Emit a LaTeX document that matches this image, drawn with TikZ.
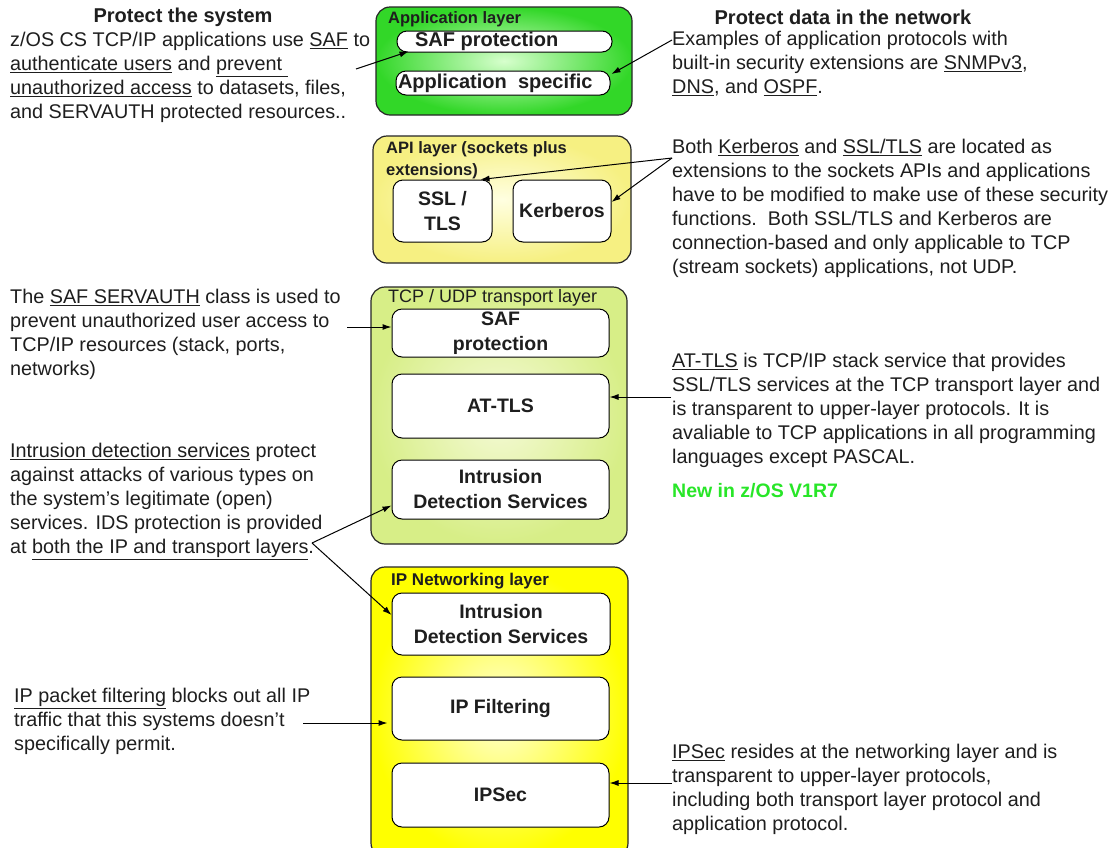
\documentclass[tikz,border=0pt]{standalone}
\usepackage{fontspec}
\setmainfont{Liberation Sans}
\usetikzlibrary{arrows.meta,calc}
\definecolor{appgreen}{RGB}{50,215,40}
\definecolor{appinner}{RGB}{215,255,205}
\definecolor{apiout}{RGB}{246,240,130}
\definecolor{apiin}{RGB}{255,255,225}
\definecolor{tcpout}{RGB}{215,238,135}
\definecolor{tcpin}{RGB}{245,250,215}
\definecolor{ipout}{RGB}{255,255,0}
\definecolor{ipin}{RGB}{255,255,215}
\definecolor{newgreen}{RGB}{40,230,40}
\definecolor{txt}{RGB}{30,30,30}
\tikzset{
  layerbox/.style={draw=black!85, line width=1.2pt, rounded corners=14pt, inner sep=0pt},
  innerbox/.style={draw=black, line width=1pt, fill=white, rounded corners=10pt, align=center,
    inner sep=0pt, font=\bfseries\fontsize{19.5}{25}\selectfont, text=txt},
  capsule/.style={draw=black, line width=1pt, fill=white, rounded corners=10pt, inner sep=0pt,
    font=\bfseries\fontsize{20}{22}\selectfont, text=txt},
  ltitle/.style={anchor=north west, inner sep=0pt, align=left, font=\bfseries\fontsize{16.5}{22}\selectfont, text=txt},
  para/.style={anchor=north west, inner sep=0pt, align=left, font=\fontsize{19.8}{24}\selectfont, text=txt},
  heading/.style={inner sep=0pt, font=\bfseries\fontsize{20}{22}\selectfont, text=txt},
  arr/.style={draw=black, line width=1pt, -{Latex[length=9pt,width=6pt]}},
}
\begin{document}
\begin{tikzpicture}[x=1pt,y=-1pt]
\useasboundingbox[fill=white] (0,0) rectangle (1114,847);

% ---- Application layer
\node[layerbox, inner color=appinner, outer color=appgreen, minimum width=256pt, minimum height=108pt] (app) at (504,61) {};
\node[ltitle] (apptitle) at (388,11) {Application layer};
\node[capsule, minimum width=215pt, minimum height=21pt] (saf1) at (504.5,41.5) {\makebox[179pt][l]{SAF protection}};
\node[capsule, minimum width=214pt, minimum height=24pt] (appspec) at (503,83) {\makebox[210pt][l]{Application\ \ specific}};

% ---- API layer
\node[layerbox, inner color=apiin, outer color=apiout, minimum width=258pt, minimum height=127pt] (api) at (502,199.5) {};
\node[ltitle] (apititle) at (386,141) {API layer (sockets plus\\extensions)};
\node[innerbox, minimum width=99pt, minimum height=62pt] (ssl) at (442.5,211) {SSL /\\TLS};
\node[innerbox, minimum width=98pt, minimum height=62pt] (kerb) at (562,211) {Kerberos};

% ---- TCP / UDP transport layer
\node[layerbox, inner color=tcpin, outer color=tcpout, minimum width=256pt, minimum height=257pt] (tcp) at (499,415.5) {};
\node[ltitle, font=\fontsize{18}{20}\selectfont] (tcptitle) at (388,289) {TCP / UDP transport layer};
\node[innerbox, minimum width=217pt, minimum height=48pt] (saf2) at (500.5,333) {SAF\\protection};
\node[innerbox, minimum width=217pt, minimum height=64pt] (attls) at (500.5,406) {AT-TLS};
\node[innerbox, minimum width=217pt, minimum height=59pt] (ids1) at (500.5,489.5) {Intrusion\\Detection Services};

% ---- IP Networking layer
\node[layerbox, inner color=ipin, outer color=ipout, minimum width=257pt, minimum height=290pt] (ip) at (499.5,712) {};
\node[ltitle, font=\bfseries\fontsize{17}{20}\selectfont] (iptitle) at (391,573) {IP Networking layer};
\node[innerbox, minimum width=218pt, minimum height=62pt] (ids2) at (501,624) {Intrusion\\Detection Services};
\node[innerbox, minimum width=217pt, minimum height=63pt] (ipf) at (500.5,708.5) {IP Filtering};
\node[innerbox, minimum width=217pt, minimum height=64pt] (ipsec) at (500.5,795) {\raisebox{-6pt}{IPSec}};

% ---- Headings
\node[heading] (hleft) at (183,17) {Protect the system};
\node[heading] (hright) at (843,17) {Protect data in the network};

% ---- Left texts
\node[para] (t1) at (10,32) {z/OS CS TCP/IP applications use \underline{SAF} to\\
\underline{authenticate users} and \underline{prevent\ }\\
\underline{unauthorized access} to datasets, files,\\
and SERVAUTH protected resources..};
\node[para] (t2) at (10,289) {The \underline{SAF SERVAUTH} class is used to\\
prevent unauthorized user access to\\
TCP/IP resources (stack, ports,\\
networks)};
\node[para] (t3) at (10,443) {\underline{Intrusion detection services} protect\\
against attacks of various types on\\
the system's legitimate (open)\\
services. IDS protection is provided\\
at \underline{both the IP and transport layers}.};
\node[para] (t4) at (14,688) {\underline{IP packet filtering} blocks out all IP\\
traffic that this systems doesn't\\
specifically permit.};

% ---- Right texts
\node[para] (t5) at (672,31) {Examples of application protocols with\\
built-in security extensions are \underline{SNMPv3},\\
\underline{DNS}, and \underline{OSPF}.};
\node[para] (t6) at (672,139) {Both \underline{Kerberos} and \underline{SSL/TLS} are located as\\
extensions to the sockets APIs and applications\\
have to be modified to make use of these security\\
functions.\ \ Both SSL/TLS and Kerberos are\\
connection-based and only applicable to TCP\\
(stream sockets) applications, not UDP.};
\node[para] (t7) at (672,353) {\underline{AT-TLS} is TCP/IP stack service that provides\\
SSL/TLS services at the TCP transport layer and\\
is transparent to upper-layer protocols. It is\\
avaliable to TCP applications in all programming\\
languages except PASCAL.};
\node[para, font=\bfseries\fontsize{19.5}{20}\selectfont, text=newgreen] (t8) at (672,483) {New in z/OS V1R7};
\node[para] (t9) at (672,744) {\underline{IPSec} resides at the networking layer and is\\
transparent to upper-layer protocols,\\
including both transport layer protocol and\\
application protocol.};

% ---- connector start points
\coordinate (c1) at (356,69);
\coordinate (c2) at (672,40);
\coordinate (c3) at (672,158);
\coordinate (c4) at (347,327);
\coordinate (c5) at (671,397);
\coordinate (c6) at (312,543);
\coordinate (c7) at (303,723);
\coordinate (c8) at (672,783);

% ---- connectors
\draw[arr] (c1) -- ($(saf1.south west)+(12,-1)$);
\draw[arr] (c2) -- ($(appspec.east)+(1,-9)$);
\draw[arr] (c3) -- ($(ssl.north east)+(-12,0)$);
\draw[arr] (c3) -- ($(kerb.east)+(0,-9)$);
\draw[arr] (c4) -- ($(saf2.west)+(0,-6)$);
\draw[arr] (c5) -- ($(attls.east)+(0,-9)$);
\draw[arr] (c6) -- ($(ids1.west)+(0,16)$);
\draw[arr] (c6) -- ($(ids2.west)+(0,-9)$);
\draw[arr, shorten >=4pt] (c7) -- ($(ipf.west)+(0,14.5)$);
\draw[arr] (c8) -- ($(ipsec.east)+(0,-12)$);
\end{tikzpicture}
\end{document}
